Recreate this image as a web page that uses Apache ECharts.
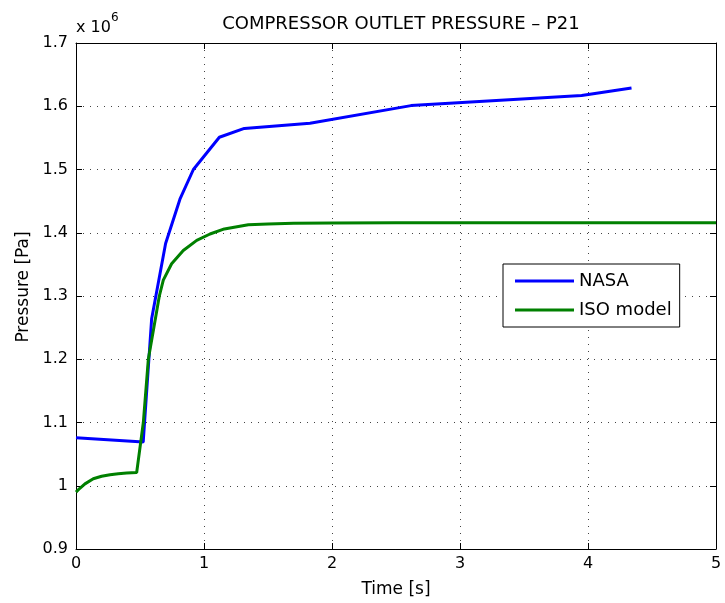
<!DOCTYPE html>
<html>
<head>
<meta charset="utf-8">
<script src="https://cdn.jsdelivr.net/npm/echarts@6/dist/echarts.min.js"></script>
<style>html,body{margin:0;padding:0;background:#fff}#c{width:725px;height:603px}</style>
</head>
<body>
<div id="c"></div>
<script>
// Time [s] and pressure [x 10^6 Pa]
const nasaTime = [0, 0.525, 0.591, 0.70, 0.812, 0.917, 1.12, 1.315, 1.828, 2.617, 3.95, 4.34];
const nasaPressure = [1.076, 1.069, 1.264, 1.383, 1.453, 1.500, 1.551, 1.565, 1.573, 1.601, 1.617, 1.629];
const isoTime = [0, 0.03, 0.07, 0.135, 0.2, 0.266, 0.33, 0.396, 0.474, 0.526, 0.565, 0.609, 0.651, 0.682, 0.747, 0.838, 0.943, 1.047, 1.159, 1.346, 1.5, 1.7, 2.0, 2.5, 3.5, 5.0];
const isoPressure = [0.990, 0.996, 1.003, 1.011, 1.015, 1.0175, 1.019, 1.020, 1.021, 1.1, 1.2, 1.251, 1.3, 1.325, 1.351, 1.372, 1.388, 1.398, 1.406, 1.4126, 1.414, 1.415, 1.4155, 1.416, 1.416, 1.416];
const xTicks = [0, 1, 2, 3, 4, 5];
const yTicks = [0.9, 1.0, 1.1, 1.2, 1.3, 1.4, 1.5, 1.6, 1.7];

const FONT = '"DejaVu Sans", "Liberation Sans", Arial, sans-serif';
const chart = echarts.init(document.getElementById('c'), null, {renderer: 'canvas'});
const pair = (xs, ys) => xs.map((x, i) => [x, ys[i]]);
const gridDot = {show: true, lineStyle: {color: '#444', width: 1, type: [1, 6]}};
const tickIn = {show: true, inside: true, length: 6, lineStyle: {color: '#000', width: 1}};
const line = {show: true, onZero: false, lineStyle: {color: '#000', width: 1}};

chart.setOption({
  animation: false,
  backgroundColor: '#fff',
  textStyle: {fontFamily: FONT},
  title: {
    text: 'COMPRESSOR OUTLET PRESSURE \u2013 P21',
    left: 396, top: 10, textAlign: 'center',
    textStyle: {fontFamily: FONT, fontSize: 18, fontWeight: 'normal', color: '#000'}
  },
  grid: {left: 76, right: 9, top: 43, bottom: 53, containLabel: false},
  legend: {
    orient: 'vertical', left: 503, top: 264,
    padding: [8, 8, 8, 12], itemGap: 11, itemWidth: 59, itemHeight: 3,
    icon: 'rect',
    borderColor: '#000', borderWidth: 1, borderRadius: 0, backgroundColor: '#fff',
    textStyle: {fontFamily: FONT, fontSize: 18, color: '#000'},
    data: ['NASA', 'ISO model']
  },
  xAxis: [{
    type: 'value', min: xTicks[0], max: xTicks[xTicks.length - 1], interval: 1, position: 'bottom',
    axisLine: line, axisTick: tickIn, splitLine: gridDot,
    axisLabel: {color: '#000', fontSize: 16, fontFamily: FONT, margin: 7},
    name: 'Time [s]', nameLocation: 'middle', nameGap: 32,
    nameTextStyle: {color: '#000', fontSize: 17, fontFamily: FONT}
  }, {
    type: 'value', min: xTicks[0], max: xTicks[xTicks.length - 1], interval: 1, position: 'top',
    axisLine: line, axisTick: tickIn, splitLine: {show: false}, axisLabel: {show: false}
  }],
  yAxis: [{
    type: 'value', min: yTicks[0], max: yTicks[yTicks.length - 1], interval: 0.1, position: 'left',
    axisLine: line, axisTick: tickIn, splitLine: gridDot,
    axisLabel: {color: '#000', fontSize: 16, fontFamily: FONT, margin: 8,
      formatter: v => String(+v.toFixed(1))}
  }, {
    type: 'value', min: yTicks[0], max: yTicks[yTicks.length - 1], interval: 0.1, position: 'right',
    axisLine: line, axisTick: tickIn, splitLine: {show: false}, axisLabel: {show: false}
  }],
  graphic: [
    {type: 'text', left: 76, top: 20, style: {text: 'x 10', fontFamily: FONT, fontSize: 16, fill: '#000'}},
    {type: 'text', left: 111, top: 12, style: {text: '6', fontFamily: FONT, fontSize: 12, fill: '#000'}},
    {type: 'text', x: 24, y: 287, rotation: Math.PI / 2,
      style: {text: 'Pressure [Pa]', fontFamily: FONT, fontSize: 17, fill: '#000', align: 'center', verticalAlign: 'middle'}}
  ],
  series: [{
    name: 'NASA', type: 'line', data: pair(nasaTime, nasaPressure),
    symbol: 'none', lineStyle: {color: '#0000ff', width: 3}, itemStyle: {color: '#0000ff'}, z: 3
  }, {
    name: 'ISO model', type: 'line', data: pair(isoTime, isoPressure),
    symbol: 'none', lineStyle: {color: '#008000', width: 3}, itemStyle: {color: '#008000'}, z: 4
  }]
});
</script>
</body>
</html>
